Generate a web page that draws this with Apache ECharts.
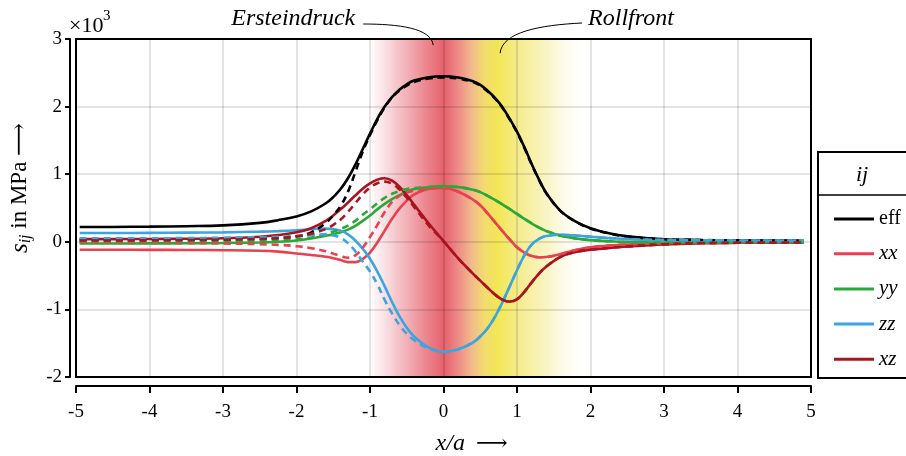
<!DOCTYPE html>
<html><head><meta charset="utf-8">
<script src="https://cdn.jsdelivr.net/npm/echarts@6/dist/echarts.min.js"></script>
<style>html,body{margin:0;padding:0;background:#fff}#c{width:906px;height:456px}</style>
</head><body><div id="c"></div>
<script>
// x positions (x/a)
const xPos = [-4.95,-4.5,-4,-3.5,-3,-2.5,-2.25,-2,-1.8,-1.6,-1.5,-1.4,-1.3,-1.2,-1.1,-1.0,-0.9,-0.8,-0.7,-0.6,-0.5,-0.4,-0.2,0,0.2,0.4,0.5,0.6,0.7,0.8,0.9,1.0,1.1,1.2,1.3,1.4,1.6,1.8,2.0,2.25,2.5,3,3.5,4,4.5,4.9];
// stresses in MPa
const effSolid = [218,220,224,231,243,280,320,375,450,570,660,780,940,1140,1370,1600,1820,2000,2140,2250,2330,2385,2435,2450,2430,2375,2320,2235,2130,1995,1820,1630,1400,1150,920,720,450,300,200,125,80,38,26,21,18,16];
const effDash  = [28,28,30,32,36,45,55,80,140,280,390,530,740,1030,1330,1580,1800,1990,2135,2240,2310,2365,2415,2430,2415,2365,2310,2225,2120,1985,1810,1620,1390,1142,915,716,447,298,198,124,79,38,26,21,18,16];
const xxSolid  = [-118,-118,-119,-121,-124,-132,-145,-172,-195,-222,-242,-270,-300,-300,-255,-160,-10,165,340,490,610,700,780,795,740,625,540,420,290,160,35,-80,-160,-210,-228,-225,-180,-120,-82,-55,-40,-22,-12,-8,-5,-4];
const xxDash   = [-15,-15,-17,-20,-25,-35,-45,-65,-95,-140,-175,-210,-235,-200,-90,70,250,440,590,680,730,755,785,795,740,625,540,420,290,160,35,-80,-160,-210,-228,-225,-180,-120,-82,-55,-40,-22,-12,-8,-5,-4];
const yySolid  = [-25,-25,-24,-22,-18,-10,0,20,50,90,110,140,180,235,310,390,480,560,630,690,745,780,810,820,810,770,735,680,620,555,485,412,340,272,210,158,90,50,25,8,-3,-10,-9,-8,-6,-5];
const yyDash   = [0,0,2,4,8,15,22,35,65,115,150,190,240,310,400,480,570,650,710,750,780,795,810,820,810,770,735,680,620,555,485,412,340,272,210,158,90,50,25,8,-3,-10,-9,-8,-6,-5];
const zzSolid  = [130,130,132,135,140,150,158,170,185,195,188,165,110,20,-100,-250,-440,-660,-890,-1100,-1270,-1400,-1565,-1625,-1590,-1490,-1400,-1280,-1110,-900,-660,-420,-200,-40,45,85,105,92,75,55,40,28,22,20,18,18];
const zzDash   = [50,50,52,55,60,68,75,85,100,110,95,60,-20,-140,-290,-440,-630,-860,-1060,-1230,-1360,-1455,-1578,-1625,-1590,-1490,-1400,-1280,-1110,-900,-660,-420,-200,-40,45,85,105,92,75,55,40,28,22,20,18,18];
const xzSolid  = [40,40,42,45,52,75,100,140,200,310,390,480,580,685,785,865,920,940,905,815,690,550,270,10,-245,-470,-575,-680,-780,-855,-885,-850,-740,-600,-470,-365,-220,-150,-118,-92,-70,-38,-22,-15,-12,-10];
const xzDash   = [20,20,22,25,30,42,55,80,120,190,250,330,440,570,700,800,865,890,860,775,655,515,240,10,-245,-470,-575,-680,-780,-855,-885,-850,-740,-600,-470,-365,-220,-150,-118,-92,-70,-38,-22,-15,-12,-10];

const xTicks = [-5,-4,-3,-2,-1,0,1,2,3,4,5];
const yTicks = [-2,-1,0,1,2,3];
const legendNames = ['eff','xx','yy','zz','xz'];

const FONT = '"Liberation Serif","DejaVu Serif",serif';
const colors = {eff:'#000000', xx:'#e8414f', yy:'#2aa838', zz:'#3aa5df', xz:'#a8141f'};

const pairs = arr => xPos.map((x,i)=>[x,arr[i]]);
function mk(name, col, arr, dashed){
  return {name, type:'line', data:pairs(arr), showSymbol:false, symbol:'none',
    smooth:0.4, z: dashed?4:3,
    lineStyle:{color:col, width:2.6, type: dashed?[7,5]:'solid'},
    itemStyle:{color:col}, emphasis:{disabled:true}};
}

const chart = echarts.init(document.getElementById('c'), null, {renderer:'canvas'});
const series = [
  {name:'bg', type:'line', data:[], z:0, silent:true,
   markArea:{silent:true, z:0, itemStyle:{color:{type:'linear',x:0,y:0,x2:1,y2:0,colorStops:[
     {offset:0, color:'rgba(240,150,160,0)'},
     {offset:0.04, color:'rgba(240,170,180,0.22)'},
     {offset:0.12, color:'rgba(238,150,160,0.55)'},
     {offset:0.24, color:'rgba(234,120,130,0.85)'},
     {offset:0.32, color:'rgb(231,104,114)'},
     {offset:0.333, color:'rgb(228,98,108)'},
     {offset:0.36, color:'rgb(233,112,118)'},
     {offset:0.40, color:'rgb(237,140,135)'},
     {offset:0.46, color:'rgb(241,185,140)'},
     {offset:0.52, color:'rgb(242,220,110)'},
     {offset:0.58, color:'rgb(243,230,85)'},
     {offset:0.62, color:'rgb(244,233,110)'},
     {offset:0.67, color:'rgb(245,236,140)'},
     {offset:0.82, color:'rgb(250,246,205)'},
     {offset:1, color:'rgba(255,255,255,0)'}]}},
     data:[[{xAxis:-1},{xAxis:2}]]}},
  mk('eff', colors.eff, effSolid, false),
  mk('xx', colors.xx, xxSolid, false),
  mk('yy', colors.yy, yySolid, false),
  mk('zz', colors.zz, zzSolid, false),
  mk('xz', colors.xz, xzSolid, false),
  mk('eff_d', colors.eff, effDash, true),
  mk('xx_d', colors.xx, xxDash, true),
  mk('yy_d', colors.yy, yyDash, true),
  mk('zz_d', colors.zz, zzDash, true),
  mk('xz_d', colors.xz, xzDash, true)
];

const option = {
  animation:false,
  backgroundColor:'#fff',
  grid:{left:76, right:95, top:39, bottom:79, show:true, borderColor:'#000', borderWidth:2, backgroundColor:'transparent', z:5,
    containLabel:false, outerBoundsMode:'none'},
  xAxis:{type:'value', min:-5, max:5, interval:1, offset:9, z:1,
    axisLine:{show:true, onZero:false, lineStyle:{color:'#000', width:2}},
    axisTick:{show:true, length:7, lineStyle:{color:'#000', width:2}},
    axisLabel:{color:'#000', fontFamily:FONT, fontSize:19, margin:17,
      formatter: v => xTicks.includes(v) ? String(v) : ''},
    splitLine:{show:true, lineStyle:{color:'rgba(0,0,0,0.15)', width:1.5}},
    name:'{i|x/a}  {n|⟶}', nameLocation:'middle', nameGap:46,
    nameTextStyle:{color:'#000', fontFamily:FONT, fontSize:22, padding:[0,0,0,56],
      rich:{i:{fontFamily:FONT, fontSize:24, fontStyle:'italic', color:'#000'}, n:{fontFamily:FONT, fontSize:22, color:'#000'}}}
  },
  yAxis:{type:'value', min:-2000, max:3000, interval:1000, offset:6, z:1,
    axisLine:{show:true, onZero:false, lineStyle:{color:'#000', width:2}},
    axisTick:{show:true, length:5, lineStyle:{color:'#000', width:2}},
    axisLabel:{color:'#000', fontFamily:FONT, fontSize:19, margin:8,
      formatter: v => yTicks.includes(v/1000) ? String(v/1000) : ''},
    splitLine:{show:true, lineStyle:{color:'rgba(0,0,0,0.15)', width:1.5}}
  },
  legend:{orient:'vertical', left:829, top:204, itemWidth:40, itemHeight:3, itemGap:14.2,
    icon:'rect',
    data:legendNames, selectedMode:false,
    formatter: n => n==='eff' ? '{n|eff}' : '{i|'+n+'}',
    textStyle:{color:'#000', fontFamily:FONT, fontSize:20, lineHeight:20,
      rich:{n:{fontFamily:FONT, fontSize:20, lineHeight:20, color:'#000'}, i:{fontFamily:FONT, fontSize:21, lineHeight:20, fontStyle:'italic', color:'#000'}}}
  },
  series
};
chart.setOption(option);

const pE = chart.convertToPixel({xAxisIndex:0,yAxisIndex:0},[-0.14, 2910]);
const pR = chart.convertToPixel({xAxisIndex:0,yAxisIndex:0},[0.77, 2790]);

chart.setOption({graphic:[
  {type:'rect', shape:{x:818, y:152, width:110, height:226}, style:{fill:'#fff', stroke:'#000', lineWidth:2}, z:-1},
  {type:'line', shape:{x1:818, y1:195, x2:906, y2:195}, style:{stroke:'#000', lineWidth:1.5}},
  {type:'text', x:862, y:175, style:{text:'ij', fontFamily:FONT, fontSize:22, fontStyle:'italic', fill:'#000', align:'center', verticalAlign:'middle'}},
  {type:'text', x:69, y:26, style:{text:'×10', fontFamily:FONT, fontSize:22, fill:'#000', align:'left', verticalAlign:'middle'}},
  {type:'text', x:103, y:16, style:{text:'3', fontFamily:FONT, fontSize:15, fill:'#000', align:'left', verticalAlign:'middle'}},
  {type:'text', x:20, y:188, rotation:Math.PI/2, style:{text:'{s|s}{b|ij}{n| in MPa ⟶}', align:'center', verticalAlign:'middle',
     rich:{s:{fontFamily:FONT, fontSize:25, fontStyle:'italic', fill:'#000', lineHeight:28},
           b:{fontFamily:FONT, fontSize:16, fontStyle:'italic', fill:'#000', lineHeight:28, verticalAlign:'bottom', padding:[11,0,0,0]},
           n:{fontFamily:FONT, fontSize:23, fill:'#000', lineHeight:28}}}},
  {type:'text', x:pE[0]-78, y:19, style:{text:'Ersteindruck', fontFamily:FONT, fontSize:24, fontStyle:'italic', fill:'#000', align:'right', verticalAlign:'middle'}},
  {type:'bezierCurve', shape:{x1:pE[0]-70, y1:24, cpx1:pE[0]-35, cpy1:24, cpx2:pE[0]-2, cpy2:28, x2:pE[0], y2:pE[1]}, style:{stroke:'#000', lineWidth:1, fill:null}},
  {type:'text', x:pR[0]+88, y:19, style:{text:'Rollfront', fontFamily:FONT, fontSize:24, fontStyle:'italic', fill:'#000', align:'left', verticalAlign:'middle'}},
  {type:'bezierCurve', shape:{x1:pR[0]+82, y1:23, cpx1:pR[0]+40, cpy1:25, cpx2:pR[0]+2, cpy2:32, x2:pR[0], y2:pR[1]}, style:{stroke:'#000', lineWidth:1, fill:null}}
]});
</script></body></html>
